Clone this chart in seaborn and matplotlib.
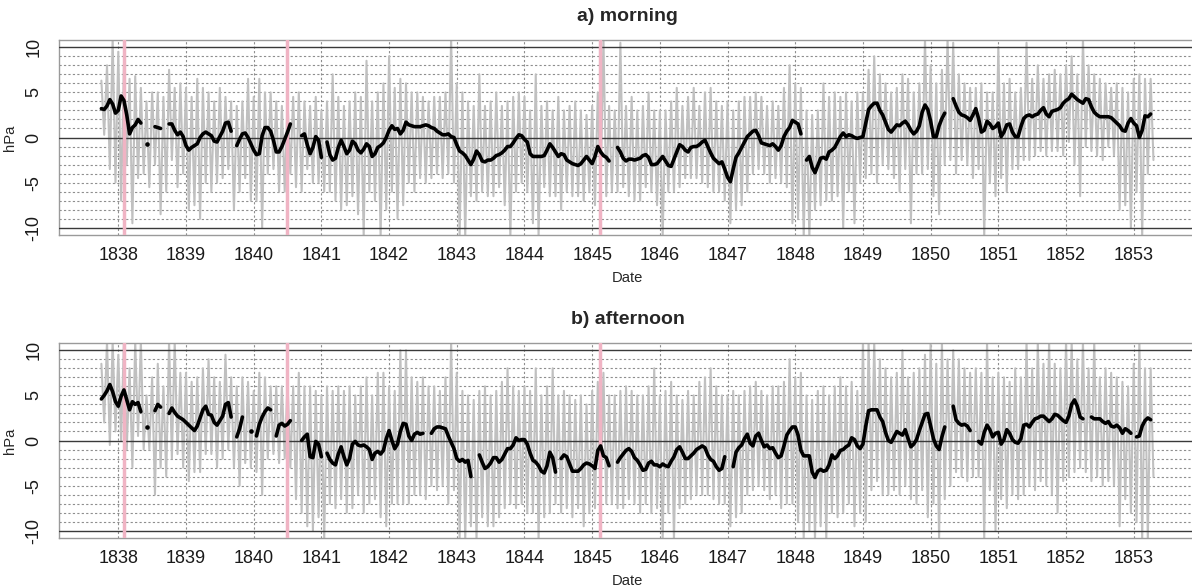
import numpy as np
import pandas as pd
import matplotlib
matplotlib.use("Agg")
import matplotlib.pyplot as plt
import seaborn as sns

sns.set_style("white")
plt.rcParams['font.family'] = ['Liberation Sans', 'DejaVu Sans']

nan = np.nan

# ---------------- data ----------------
START = 1837.75                       # first observation (decimal year)
year_ticks = list(range(1838, 1854))
y_ticks = [-10, -5, 0, 5, 10]
events = [1838.085, 1840.49, 1845.12]  # pink marker dates
titles = ["a) morning", "b) afternoon"]

# smoothed anomaly, half-monthly values (hPa)
morning_smooth = [
    3.2, 3.1, 3.5, 4.2, 3.7, 2.7, 3.0, 4.6, 4.1, 2.5,
    0.4, 1.1, 1.4, 2.0, 1.6, nan, -0.7, nan, nan, 1.2,
    1.1, 1.0, nan, nan, 1.5, 1.5, 0.8, 0.3, 0.6, 0.1,
    -0.9, -1.4, -1.1, -0.9, -0.7, 0.0, 0.4, 0.6, 0.4, 0.2,
    -0.4, -0.5, 0.1, 0.7, 1.6, 1.7, 0.7, nan, -0.9, -0.2,
    0.4, 0.5, 0.0, -0.7, -1.4, -1.9, -1.8, 0.2, 1.1, 1.1,
    0.7, -0.3, -1.6, -1.6, -1.0, -0.2, 0.6, 1.5, nan, nan,
    nan, 0.2, 0.4, -0.8, -1.8, -1.1, 0.1, -0.3, -2.2, nan,
    -0.5, -1.9, -2.5, -2.3, -1.1, -0.3, -1.0, -1.8, -1.4, -0.4,
    -0.7, -1.4, -1.7, -1.3, -0.7, -1.0, -2.1, -1.8, -1.1, -0.9,
    -0.6, 0.0, 0.8, 1.3, 0.9, 1.0, 0.4, 0.8, 1.7, 1.4,
    1.3, 1.2, 1.2, 1.2, 1.3, 1.4, 1.3, 1.1, 1.0, 0.7,
    0.5, 0.3, 0.3, 0.4, 0.1, 0.0, -0.8, -1.5, -1.7, -2.0,
    -2.5, -3.0, -2.4, -1.5, -1.9, -2.6, -2.7, -2.5, -2.5, -2.3,
    -2.0, -1.9, -1.7, -1.4, -1.0, -1.0, -0.6, -0.1, 0.3, 0.2,
    -0.2, -0.5, -1.8, -2.1, -2.1, -2.1, -2.1, -2.0, -1.4, -0.7,
    -1.1, -1.6, -2.1, -1.8, -1.9, -2.5, -2.7, -2.9, -3.0, -3.1,
    -2.9, -2.5, -2.1, -2.5, -2.9, -2.1, -1.0, -1.6, -2.0, -2.2,
    -2.6, nan, nan, -1.1, -1.6, -2.3, -2.6, -2.4, -2.4, -2.5,
    -2.4, -2.3, -2.0, -1.9, -2.2, -3.0, -3.0, -2.9, -2.5, -2.1,
    -2.6, -3.1, -3.2, -2.4, -1.6, -0.8, -1.0, -1.4, -1.6, -1.1,
    -1.0, -1.0, -0.8, -0.5, -0.3, -1.0, -1.7, -2.3, -2.6, -2.9,
    -2.7, -3.5, -4.4, -4.9, -3.5, -2.2, -1.7, -1.1, -0.5, 0.1,
    0.4, 0.7, 0.8, 0.2, -0.6, -0.7, -0.8, -0.9, -0.7, -1.0,
    -1.4, -0.9, 0.1, 0.7, 1.1, 1.9, 1.7, 1.5, 0.4, nan,
    -2.5, -2.1, -3.3, -3.9, -3.1, -2.3, -2.2, -2.4, -1.6, -1.4,
    -1.1, -0.5, 0.1, 0.5, 0.1, 0.3, 0.2, 0.0, -0.1, 0.0,
    0.1, 1.6, 3.1, 3.5, 3.8, 3.8, 3.0, 2.5, 1.7, 0.9,
    0.6, 1.0, 1.4, 1.3, 1.6, 1.8, 1.4, 0.8, 0.4, 0.7,
    1.3, 2.8, 3.6, 3.1, 1.8, 0.1, 0.1, 1.3, 2.1, 2.7,
    nan, nan, 4.3, 3.5, 2.8, 2.5, 2.4, 2.2, 1.9, 2.5,
    3.2, 2.1, 0.6, 0.8, 1.8, 1.5, 1.0, 1.2, 1.6, 0.1,
    0.6, 1.4, 1.5, 0.6, 0.1, 0.1, 1.2, 2.1, 2.4, 2.5,
    2.3, 2.5, 2.6, 3.0, 3.3, 2.6, 2.3, 2.9, 3.0, 3.1,
    3.3, 3.8, 4.1, 4.3, 4.8, 4.5, 4.2, 4.0, 3.8, 4.3,
    4.2, 3.4, 2.8, 2.5, 2.3, 2.3, 2.3, 2.3, 2.2, 1.9,
    1.6, 1.3, 0.8, 0.7, 1.6, 2.1, 1.6, 1.3, 0.0, 0.8,
    2.4, 2.3, 2.6,
]

afternoon_smooth = [
    4.6, 5.0, 5.5, 6.2, 5.4, 4.3, 3.8, 4.9, 5.6, 4.5,
    3.4, 4.3, 4.0, 4.2, 3.2, nan, 1.5, nan, nan, 3.3,
    4.0, 3.7, nan, nan, 3.0, 3.6, 3.1, 2.7, 2.5, 2.3,
    2.0, 1.7, 1.4, 1.1, 1.6, 2.5, 3.4, 3.8, 2.9, 2.8,
    2.0, 1.7, 2.2, 2.7, 4.0, 4.2, 2.6, nan, 0.4, 1.3,
    2.6, nan, nan, 1.0, nan, 0.5, 1.8, 2.6, 3.2, 3.6,
    3.4, nan, 0.5, 1.7, 1.9, 1.6, 1.8, 2.2, nan, nan,
    nan, 0.0, 0.4, 0.7, -1.8, -1.9, -0.1, -0.4, -1.8, nan,
    -1.4, -2.1, -2.5, -2.7, -1.5, -0.7, -1.8, -2.7, -2.0, -0.4,
    -0.1, -0.5, -0.6, -0.5, -0.7, -1.0, -2.1, -1.4, -1.2, -1.5,
    -1.1, 0.2, 1.1, 0.0, -0.9, -0.4, 1.0, 1.9, 1.8, 0.5,
    0.0, 0.7, 0.9, 0.7, 0.8, nan, nan, 0.8, 1.3, 1.5,
    1.5, 1.4, 1.3, 0.5, -0.2, -0.9, -2.0, -2.3, -2.1, -2.4,
    -2.2, -4.0, nan, nan, -1.6, -2.4, -3.1, -2.9, -2.5, -1.9,
    -1.9, -2.4, -2.1, -1.5, -0.9, -0.9, -0.5, 0.3, 0.0, 0.1,
    0.1, -0.4, -1.4, -2.2, -2.4, -2.8, -3.4, -3.6, -2.8, -1.3,
    -1.9, -3.5, nan, -2.0, -1.6, -1.8, -2.6, -3.4, -3.4, -3.4,
    -3.1, -2.7, -2.5, -2.6, -2.8, -3.1, -1.1, -0.6, -1.7, -1.9,
    -2.8, nan, nan, -2.4, -1.9, -1.5, -1.1, -0.9, -1.2, -1.9,
    -2.2, -2.7, -3.3, -3.2, -2.5, -2.3, -2.7, -2.7, -2.9, -2.6,
    -2.8, -2.9, -2.3, -1.8, -1.0, -0.7, -1.3, -2.0, -2.0, -1.7,
    -1.4, -1.0, -0.8, -0.6, -0.8, -1.6, -2.1, -2.3, -2.9, -3.3,
    -3.1, -1.8, nan, nan, -2.9, -1.3, -0.8, -0.5, 0.2, 0.7,
    -0.3, -0.6, 0.5, 0.8, 0.0, -0.7, -0.5, -0.9, -0.8, -1.4,
    -1.9, -1.7, -0.6, 0.6, 1.1, 1.5, 1.5, 0.6, -1.1, -1.7,
    -1.7, -1.7, -3.5, -4.1, -3.4, -3.2, -3.4, -3.3, -2.7, -1.6,
    -2.0, -1.7, -1.1, -1.0, -0.7, -0.5, 0.3, 0.1, -0.6, -0.9,
    -0.4, 1.6, 3.3, 3.4, 3.4, 3.4, 2.6, 2.1, 0.9, 0.0,
    -0.2, 0.4, 1.0, 0.8, 0.6, 1.2, 0.2, -0.7, -0.4, 0.1,
    1.1, 2.0, 2.9, 3.0, 1.6, 0.2, -0.6, -1.0, 0.4, 1.5,
    nan, nan, 3.8, 2.3, 1.9, 1.7, 1.8, 1.6, 1.1, nan,
    nan, -0.1, -0.4, 0.9, 1.7, 1.2, 0.4, 0.8, 0.9, -0.4,
    0.1, 1.2, 0.8, 0.1, -0.2, -0.3, 0.2, 1.7, 1.8, 1.5,
    2.0, 2.4, 2.5, 2.7, 2.7, 2.4, 2.1, 2.4, 2.9, 2.8,
    2.5, 2.2, 2.0, 2.7, 4.0, 4.5, 3.8, 2.6, 2.4, nan,
    nan, 2.6, 2.4, 2.4, 2.4, 2.1, 1.9, 2.1, 1.6, 1.5,
    1.7, 1.4, 0.8, 1.3, 1.1, 0.8, nan, 0.4, 0.5, 1.6,
    2.2, 2.5, 2.3,
]

# raw daily series summarised as monthly highest / lowest value (hPa)
morning_high = [
    6.3, 8.0, 11.0, 9.5, 8.0, 6.5, 6.8, 5.5, 4.0, 5.0,
    5.0, 4.5, 7.5, 5.5, 6.0, 5.5, 4.5, 6.5, 5.5, 5.0,
    4.0, 5.5, 4.5, 4.0, 3.5, 4.0, 6.5, 4.5, 6.5, 5.0,
    5.0, 4.0, 3.5, 4.0, 4.5, 5.0, 4.0, 3.5, 4.5, 3.0,
    4.0, 7.0, 4.5, 3.5, 4.0, 5.0, 4.5, 8.5, 4.0, 5.0,
    6.0, 9.0, 5.5,
    6.5, 6.0, 5.0, 5.0, 4.5, 4.0, 4.5,
    4.5, 5.0, 11.0, 6.0, 5.0, 4.0, 3.5, 7.0, 3.5, 4.0,
    5.0, 3.5, 4.0, 4.5, 5.0, 4.5, 3.0, 7.0, 3.5, 4.0,
    3.0, 4.5, 3.0, 3.5, 4.0, 3.0, 2.5, 3.5, 5.0, 11.0,
    3.5, 3.0, 10.5, 3.5, 4.5, 3.0, 3.5, 5.0, 3.0, 3.0,
    3.0, 4.0, 5.5, 3.5, 4.5, 5.5, 3.5, 5.0, 5.5, 4.0,
    3.5, 4.0, 3.0, 4.0, 4.5, 4.5, 5.0, 4.5, 3.5, 4.0,
    3.5, 5.5, 8.0,
    6.0, 5.5, 3.0, 2.5, 3.0, 6.0, 4.5,
    5.0, 4.5, 5.0, 4.0, 5.0, 5.0, 7.5, 9.0, 7.0, 6.0,
    5.0, 5.5, 7.0, 6.5, 5.0, 6.0, 11.0, 8.0, 6.0, 7.5,
    11.0, 10.5, 7.0, 6.0, 5.5, 5.5, 6.0, 5.0, 5.0, 10.0,
    6.0, 6.5, 5.0, 5.5, 10.5, 6.5, 8.0, 6.5, 7.0, 7.5,
    7.0, 8.0, 9.0, 7.0, 11.0, 8.0, 7.0, 6.5, 6.0, 5.5,
    6.0, 5.5, 5.0, 6.5, 7.0, 6.5, 6.5,
]
morning_low = [
    0.3, -3.5, -5.0, -7.0, -3.0, -9.5, -4.5, -4.0, -5.5, -3.0,
    -8.5, -6.0, -2.5, -5.5, -4.0, -8.0, -7.5, -9.0, -5.0, -6.0,
    -5.0, -4.5, -3.5, -8.0, -6.0, -4.5, -7.0, -7.0, -10.0, -4.0,
    -3.5, -6.0, -6.0, -4.0, -5.5, -6.0, -3.5, -5.0, -5.0, -6.0,
    -6.0, -7.0, -8.0, -7.5, -6.5, -8.5, -11.0, -6.0, -7.0, -11.0,
    -8.0, -6.0, -9.0,
    -7.5, -5.0, -6.0, -4.5, -5.0, -4.5, -4.0,
    -4.5, -4.0, -5.0, -11.0, -11.0, -6.5, -7.0, -6.0, -6.5, -6.5,
    -5.5, -7.5, -11.0, -6.0, -5.0, -6.0, -9.5, -11.0, -5.5, -6.5,
    -6.5, -8.0, -6.0, -6.5, -6.5, -7.0, -6.0, -7.5, -5.5, -6.5,
    -6.0, -6.0, -5.5, -6.5, -7.0, -7.0, -5.5, -6.0, -7.5, -11.0,
    -6.0, -6.0, -5.5, -4.5, -4.5, -4.5, -5.0, -5.5, -6.0, -6.0,
    -7.0, -9.5, -8.0, -7.5, -6.0, -4.0, -3.5, -4.0, -5.0, -4.5,
    -5.0, -5.5, -9.5,
    -9.0, -11.0, -11.0, -8.0, -7.5, -7.0, -7.0,
    -6.5, -10.0, -6.0, -9.5, -5.0, -4.5, -4.0, -5.0, -3.0, -3.5,
    -4.5, -6.0, -3.5, -9.5, -4.0, -4.0, -3.5, -6.5, -8.5, -3.0,
    -2.5, -4.0, -2.5, -3.0, -4.5, -3.5, -11.0, -5.0, -6.5, -4.5,
    -6.0, -3.5, -3.5, -2.5, -2.5, -2.0, -1.5, -2.0, -1.5, -1.5,
    -2.0, -0.5, -3.0, -6.5, -1.0, -1.5, -2.0, -2.5, -1.0, -2.0,
    -8.0, -7.5, -10.0, -6.0, -11.0, -4.0, -2.5,
]
afternoon_high = [
    8.5, 11.0, 11.0, 9.5, 11.0, 8.0, 11.0, 11.0, 5.0, 7.0,
    8.5, 6.0, 11.0, 11.0, 7.5, 7.5, 6.5, 7.0, 8.0, 9.0,
    7.0, 6.5, 9.5, 7.0, 6.0, 7.0, 6.5, 5.5, 7.5, 7.0,
    6.0, 6.0, 6.0, 6.5, 6.0, 7.5, 6.0, 6.0, 5.5, 5.0,
    6.0, 5.5, 6.0, 5.5, 6.0, 5.0, 6.0, 7.0, 5.0, 7.5,
    7.5, 6.0, 5.5,
    10.0, 10.0, 7.0, 6.5, 7.0, 6.0, 6.0,
    5.5, 7.0, 11.0, 7.5, 5.5, 5.0, 4.5, 5.5, 6.0, 5.0,
    5.5, 6.5, 8.0, 6.0, 5.5, 6.0, 5.5, 8.0, 5.0, 6.0,
    8.0, 5.0, 5.5, 5.0, 4.5, 5.0, 4.0, 5.5, 6.5, 7.5,
    5.0, 5.0, 5.5, 6.0, 5.5, 5.0, 5.0, 6.0, 8.0, 5.0,
    5.5, 6.5, 5.0, 4.5, 5.5, 5.0, 6.5, 7.0, 8.0, 6.0,
    5.0, 5.0, 5.5, 5.0, 5.5, 6.0, 6.5, 5.5, 5.0, 6.0,
    6.0, 6.5, 9.0,
    7.0, 7.5, 5.0, 4.5, 5.5, 6.0, 5.0,
    6.0, 7.0, 6.0, 6.5, 5.5, 11.0, 11.0, 11.0, 9.0, 8.0,
    7.0, 7.5, 10.0, 7.0, 7.5, 8.0, 9.5, 11.0, 8.5, 11.0,
    9.0, 10.0, 9.0, 8.0, 7.5, 8.0, 7.5, 11.0, 7.0, 7.5,
    7.0, 6.5, 8.0, 7.0, 11.0, 8.0, 11.0, 8.5, 11.0, 8.5,
    8.0, 11.0, 11.0, 9.0, 11.0, 8.0, 11.0, 7.0, 8.0, 7.5,
    7.0, 6.5, 6.0, 8.5, 11.0, 8.0, 8.0,
]
afternoon_low = [
    2.0, -0.5, 1.0, 0.0, -1.0, -3.0, 0.5, -1.0, -1.0, -6.0,
    -3.0, -4.0, -2.0, -1.5, -3.0, -4.5, -3.5, -3.5, -1.5, -1.5,
    -3.0, -2.0, -1.0, -3.0, -5.0, -2.5, -3.0, -3.5, -6.0, -2.0,
    -1.5, -2.5, -2.0, -3.0, -6.5, -8.0, -9.5, -10.0, -8.5, -11.0,
    -7.0, -7.5, -6.5, -8.0, -7.5, -6.0, -8.0, -7.0, -6.5, -8.5,
    -9.5, -7.0, -7.0,
    -7.0, -7.0, -6.0, -6.0, -6.5, -5.0, -5.5,
    -5.0, -7.0, -5.5, -11.0, -11.0, -9.5, -11.0, -8.5, -9.5, -9.5,
    -8.5, -7.5, -7.0, -7.5, -7.0, -8.0, -8.0, -11.0, -8.5, -8.0,
    -7.0, -8.0, -7.5, -8.5, -7.5, -9.5, -8.0, -7.5, -6.5, -7.0,
    -7.0, -7.5, -7.5, -6.5, -7.0, -8.0, -7.0, -8.0, -7.5, -11.0,
    -8.0, -11.0, -7.5, -7.0, -6.5, -6.0, -6.0, -6.0, -6.5, -7.0,
    -7.0, -9.5, -8.5, -8.0, -6.0, -5.5, -5.0, -5.5, -6.5, -6.0,
    -7.5, -7.0, -7.0,
    -9.0, -11.0, -10.0, -11.0, -9.5, -11.0, -8.0,
    -8.5, -8.0, -7.0, -9.5, -8.0, -9.0, -5.5, -4.5, -6.0, -6.0,
    -5.5, -6.0, -5.0, -6.5, -7.0, -5.5, -8.5, -7.0, -11.0, -6.5,
    -5.0, -3.5, -4.0, -4.5, -4.0, -4.0, -11.0, -5.5, -10.0, -6.5,
    -7.5, -6.0, -6.5, -6.0, -5.0, -5.5, -4.5, -5.0, -6.0, -8.0,
    -4.5, -4.0, -3.5, -3.0, -3.5, -4.5, -4.0, -5.0, -4.5, -5.0,
    -9.5, -6.5, -8.0, -9.0, -11.0, -11.0, -4.0,
]

# ---------------- helpers ----------------
def smooth_frame(values):
    v = np.asarray(values, dtype=float)
    t = START + np.arange(len(v)) / 24.0
    ok = ~np.isnan(v)
    seg = np.cumsum(np.r_[True, ok[1:] != ok[:-1]])
    df = pd.DataFrame({"t": t, "v": v, "seg": seg})[ok]
    sizes = df.groupby("seg")["v"].transform("size")
    return df[sizes > 1], df[sizes == 1]


def raw_frame(high, low):
    hi = np.asarray(high, dtype=float)
    lo = np.asarray(low, dtype=float)
    tm = START + np.arange(len(hi)) / 12.0
    t = np.column_stack([tm, tm + 1 / 24.0]).ravel()
    v = np.column_stack([hi, lo]).ravel()
    return pd.DataFrame({"t": t, "v": v})


W, H = 1192, 587
fig = plt.figure(figsize=(W / 100, H / 100), dpi=100)
panels = [
    (40, morning_smooth, morning_high, morning_low, titles[0]),
    (343, afternoon_smooth, afternoon_high, afternoon_low, titles[1]),
]
grid_col = "#8e8e8e"
for top, smooth, high, low, title in panels:
    ax = fig.add_axes([59.4 / W, 1 - (top + 195) / H, (1196 - 59.4) / W, 195 / H])
    ax.set_xlim(1837.13, 1853.92)
    ax.set_ylim(-10.8, 10.8)

    for y in range(-9, 10):
        if y != 0:
            ax.axhline(y, color=grid_col, lw=0.8, ls=(0, (2, 2)), zorder=0)
    for x in year_ticks:
        ax.axvline(x, color=grid_col, lw=0.8, ls=(0, (2, 2)), zorder=0)

    raw = raw_frame(high, low)
    sns.lineplot(data=raw, x="t", y="v", estimator=None, sort=False,
                 color="#c0c0c0", lw=1.5, ax=ax, zorder=2)

    for y in (-10, 0, 10):
        ax.axhline(y, color="#3a3a3a", lw=1.0, zorder=3)
    for e in events:
        ax.axvline(e, color="#f0b4c4", lw=2.5, zorder=3)

    lines, dots = smooth_frame(smooth)
    sns.lineplot(data=lines, x="t", y="v", units="seg", estimator=None,
                 sort=False, color="black", lw=2.6, ax=ax, zorder=4)
    if len(dots):
        sns.scatterplot(data=dots, x="t", y="v", color="black", s=11,
                        linewidth=0, ax=ax, zorder=4)

    ax.set_xticks(year_ticks)
    ax.set_xticklabels([str(y) for y in year_ticks])
    ax.set_yticks(y_ticks)
    ax.set_yticklabels([str(y) for y in y_ticks], rotation=90, va="center")
    ax.tick_params(axis="both", direction="out", length=7, width=0.8,
                   color="#333333", labelsize=13, labelcolor="#1a1a1a")
    ax.tick_params(axis="x", pad=1.5)
    ax.tick_params(axis="y", pad=5)
    for s in ax.spines.values():
        s.set_color("#9a9a9a")
        s.set_linewidth(1.0)
    ax.set_xlabel("Date", fontsize=10.6, labelpad=5)
    ax.set_ylabel("hPa", fontsize=10.6, labelpad=6)
    ax.set_title(title, fontsize=14, fontweight="bold", pad=13.5)

fig.savefig("out.png", dpi=100)
